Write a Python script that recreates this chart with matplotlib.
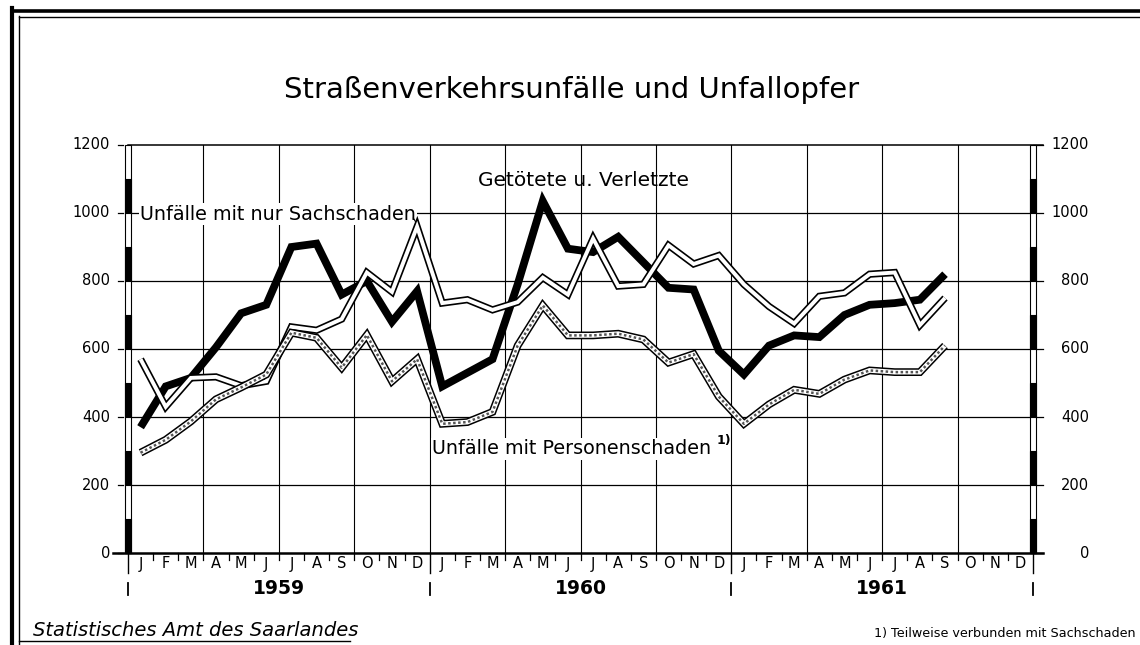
import matplotlib
matplotlib.use('Agg')
import matplotlib.pyplot as plt
from matplotlib.patches import Rectangle
from matplotlib.lines import Line2D

# ---------------- data ----------------
month_labels = ['J', 'F', 'M', 'A', 'M', 'J', 'J', 'A', 'S', 'O', 'N', 'D']
years = ['1959', '1960', '1961']
y_ticks = [0, 200, 400, 600, 800, 1000, 1200]

# Jan 1959 .. Sep 1961
getoetete_verletzte = [370, 490, 515, 605, 705, 730, 900, 910, 760, 800, 680, 770,
                       490, 530, 570, 790, 1035, 895, 885, 930, 855, 780, 775, 595,
                       525, 610, 640, 635, 700, 730, 735, 745, 820]
nur_sachschaden = [570, 430, 515, 518, 492, 505, 665, 655, 688, 825, 768, 960,
                   735, 745, 715, 738, 810, 760, 925, 785, 790, 905, 850, 875,
                   790, 725, 675, 755, 765, 820, 825, 670, 750]
personenschaden = [295, 333, 387, 452, 487, 525, 648, 633, 545, 641, 505, 570,
                   380, 385, 415, 610, 728, 640, 640, 645, 628, 560, 585, 460,
                   380, 437, 480, 468, 510, 537, 532, 532, 610]

# ---------------- figure ----------------
W, H = 1140, 645
fig = plt.figure(figsize=(W / 100, H / 100), dpi=100)
fig.patch.set_facecolor('white')

L, R, B, T = 128, 1033, 553, 145
ax = fig.add_axes([L / W, (H - B) / H, (R - L) / W, (B - T) / H])
n_months = len(month_labels) * len(years)
ax.set_xlim(-0.5, n_months - 0.5)
ax.set_ylim(0, 1200)
ax.axis('off')

px_x = (n_months) / (R - L)        # data units per pixel (x)
px_y = 1200 / (B - T)              # data units per pixel (y)
x0, x1 = -0.5, n_months - 0.5

# horizontal gridlines
for yv in y_ticks[1:-1]:
    ax.plot([x0, x1], [yv, yv], color='black', lw=0.9, zorder=1)
# top line (1200) with ticks extending
ax.plot([x0, x1 + 10 * px_x], [1200, 1200], color='black', lw=1.1, zorder=1, clip_on=False)
# bottom zero line
ax.plot([x0 - 15 * px_x, x1 + 10 * px_x], [0, 0], color='black', lw=1.8, zorder=6, clip_on=False)

# vertical gridlines at quarter boundaries
for k in range(3, n_months, 3):
    ax.plot([x0 + k, x0 + k], [0, 1200], color='black', lw=0.8, zorder=1)

# y tick marks and labels
for yv in y_ticks:
    ax.plot([x0 - 10 * px_x, x0 - 5 * px_x], [yv, yv], color='black', lw=0.9, clip_on=False)
    ax.plot([x1, x1 + 10 * px_x], [yv, yv], color='black', lw=0.9, clip_on=False)
    ax.text(x0 - 18 * px_x, yv, str(yv), ha='right', va='center', fontsize=10.5,
            family='DejaVu Sans')
    ax.text(x1 + 56 * px_x, yv, str(yv), ha='right', va='center', fontsize=10.5,
            family='DejaVu Sans')

# ruler-style axes (alternating black/white segments)
rw = 6 * px_x
for xc in (x0, x1):
    ax.add_patch(Rectangle((xc - rw / 2, 0), rw, 1200, facecolor='white',
                           edgecolor='black', lw=0.8, zorder=7, clip_on=False))
    for k in range(0, 1200, 200):
        ax.add_patch(Rectangle((xc - rw / 2, k), rw, 100, facecolor='black',
                               edgecolor='black', lw=0.8, zorder=8, clip_on=False))

# month ticks and labels
for k in range(n_months + 1):
    xb = x0 + k
    if k % 12 == 0:
        ax.plot([xb, xb], [0, -20 * px_y], color='black', lw=1.0, clip_on=False)
        ax.plot([xb, xb], [-30 * px_y, -42 * px_y], color='black', lw=1.3, clip_on=False)
    else:
        ax.plot([xb, xb], [0, -7 * px_y], color='black', lw=0.9, clip_on=False)
for k in range(n_months):
    ax.text(k, -11 * px_y, month_labels[k % 12], ha='center', va='center',
            fontsize=10.5, family='DejaVu Sans')
for i, yr in enumerate(years):
    ax.text(12 * i + 5.5, -36 * px_y, yr, ha='center', va='center',
            fontsize=13.5, fontweight='bold', family='DejaVu Sans')

# ---------------- series ----------------
xs = list(range(len(getoetete_verletzte)))
ax.plot(xs, getoetete_verletzte, color='black', lw=5.6, solid_joinstyle='miter',
        solid_capstyle='butt', zorder=3)

xs2 = list(range(len(nur_sachschaden)))
ax.plot(xs2, nur_sachschaden, color='black', lw=5.2, solid_joinstyle='miter',
        solid_capstyle='butt', zorder=4)
ax.plot(xs2, nur_sachschaden, color='white', lw=2.8, solid_joinstyle='miter',
        solid_capstyle='butt', zorder=4.1)

xs3 = list(range(len(personenschaden)))
ax.plot(xs3, personenschaden, color='black', lw=5.6, solid_joinstyle='miter',
        solid_capstyle='butt', zorder=5)
ax.plot(xs3, personenschaden, color='white', lw=3.4, solid_joinstyle='miter',
        solid_capstyle='butt', zorder=5.1)
ax.plot(xs3, personenschaden, color='#555555', lw=1.8, linestyle=(0, (1.0, 1.0)),
        solid_joinstyle='miter', zorder=5.2)

# series labels
lab_font = dict(fontsize=13.8, family='DejaVu Sans', zorder=2)
ax.text(-0.02, 997, 'Unfälle mit nur Sachschaden', ha='left', va='center',
        bbox=dict(facecolor='white', edgecolor='none', pad=1.0), **lab_font)
ax.plot([10.85, 11.1], [985, 955], color='black', lw=0.8, zorder=2)
ax.text(17.6, 1097, 'Getötete u. Verletzte', ha='center', va='center',
        fontsize=14.5, family='DejaVu Sans', zorder=2)
ax.text(11.6, 306, 'Unfälle mit Personenschaden', ha='left', va='center',
        bbox=dict(facecolor='white', edgecolor='none', pad=1.0), **lab_font)
ax.text(22.9, 332, '1)', ha='left', va='center', fontsize=9, fontweight='bold',
        family='DejaVu Sans', zorder=2)

# ---------------- texts ----------------
fig.text(572 / W, 1 - 90 / H, 'Straßenverkehrsunfälle und Unfallopfer',
         ha='center', va='center', fontsize=21, family='DejaVu Sans')
fig.text(33 / W, 1 - 631 / H, 'Statistisches Amt des Saarlandes', ha='left',
         va='center', fontsize=14, style='italic', family='DejaVu Sans')
fig.text(1136 / W, 1 - 634 / H, '1) Teilweise verbunden mit Sachschaden',
         ha='right', va='center', fontsize=9.2, family='DejaVu Sans')

# ---------------- frame ----------------
def fline(xa, ya, xb, yb, lw):
    fig.add_artist(Line2D([xa / W, xb / W], [1 - ya / H, 1 - yb / H],
                          color='black', lw=lw, transform=fig.transFigure))

fline(12, 8, 12, 645, 3.0)
fline(19, 16, 19, 645, 1.0)
fline(12, 11, 1140, 11, 2.6)
fline(19, 17, 1140, 17, 1.0)
fline(19, 641, 350, 641, 1.0)

fig.savefig('out.png', dpi=100)
